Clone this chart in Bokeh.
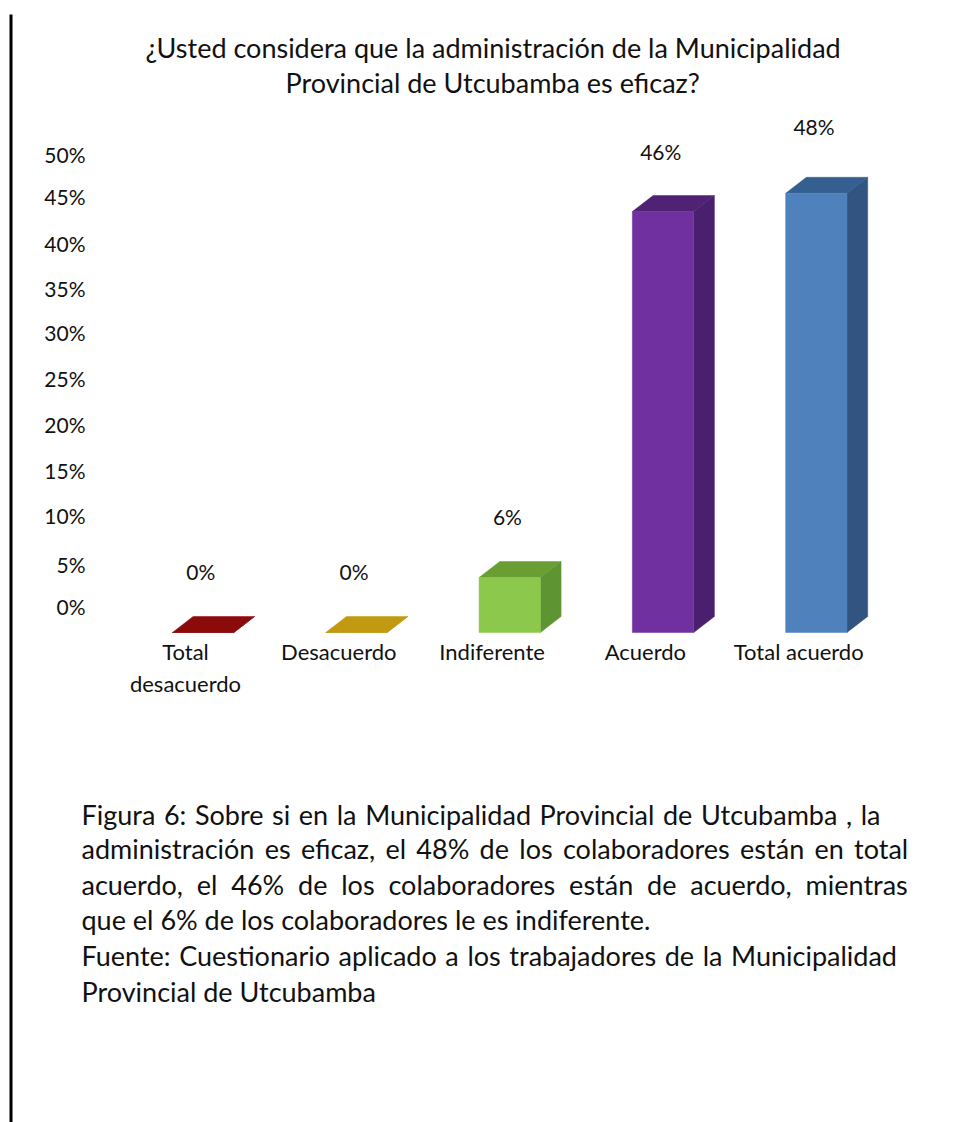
from bokeh.plotting import figure
from bokeh.embed import file_html
from bokeh.resources import INLINE
from bokeh.models import (Range1d, LinearAxis, FixedTicker, Label, BoxAnnotation, ColumnDataSource)
from bokeh.core.properties import value

# ---- data ----
categories = ["Total\ndesacuerdo", "Desacuerdo", "Indiferente", "Acuerdo", "Total acuerdo"]
values = [0, 0, 6, 46, 48]
value_labels = ["0%", "0%", "6%", "46%", "48%"]
axis_labels = ["0%", "5%", "10%", "15%", "20%", "25%", "30%", "35%", "40%", "45%", "50%"]
# where each printed axis label sits, read on the label's own scale (they are unevenly spaced)
axis_label_at = [0, 4.54, 9.96, 15.04, 20.13, 25.2, 30.3, 35.07, 40.15, 45.35, 50]

title_lines = ["¿Usted considera que la administración de la Municipalidad",
               "Provincial de Utcubamba es eficaz?"]
caption_lines = [
    "Figura 6: Sobre si en la Municipalidad Provincial de Utcubamba , la",
    "administración es eficaz, el 48% de los colaboradores están en total",
    "acuerdo, el 46% de los colaboradores están de acuerdo, mientras",
    "que el 6% de los colaboradores le es indiferente.",
    "Fuente: Cuestionario aplicado a los trabajadores de la Municipalidad",
    "Provincial de Utcubamba",
]

# ---- styles ----
front_colors = ["#8B0A0A", "#C19A12", "#8CC84B", "#7030A0", "#4F81BD"]
top_colors = ["#8B0A0A", "#C19A12", "#6A9E33", "#4F2273", "#365F91"]
side_colors = ["#8B0A0A", "#C19A12", "#5F9432", "#4A1F6E", "#315580"]
label_lift = [61, 61, 61, 60, 67]
caption_y = [814, 848, 884, 919, 955, 991]
# widening of the lines that the reference sets wider
caption_gap = ["\u200a", "\u200a\u200a", "\u00a0", "", "\u200a", ""]

FONT = "Lato"
W, H = 960, 1122
AXIS_X = 101        # where the printed percentages end, px
AXIS_Y = 632        # baseline, px
STEP = 153.3        # px per category
X0 = 185            # centre of first axis label, px
PX_PER_PCT = 9.15
TICK_PX = 9.04
TICK_ZERO = 605.5

x_range = Range1d((0 - X0) / STEP, (W - X0) / STEP)
y_range = Range1d((AXIS_Y - H) / PX_PER_PCT, AXIS_Y / PX_PER_PCT)

p = figure(width=W, height=H, x_range=x_range, y_range=y_range, output_backend="svg",
           toolbar_location=None, x_axis_location=None, y_axis_location=None,
           min_border=0, outline_line_color=None, background_fill_color="white")
p.grid.visible = False

# ---- axis with the printed percentages ----
p.extra_y_ranges = {"printed": Range1d((TICK_ZERO - H) / TICK_PX, TICK_ZERO / TICK_PX)}
left = LinearAxis(y_range_name="printed", ticker=FixedTicker(ticks=axis_label_at),
                  fixed_location=(AXIS_X - X0) / STEP,
                  major_label_overrides=dict(zip(axis_label_at, axis_labels)),
                  axis_line_color=None, major_tick_line_color=None, minor_tick_line_color=None,
                  major_label_text_font=FONT, major_label_text_font_size="21px",
                  major_label_text_color="#111111", major_label_standoff=10)
p.add_layout(left, "left")

xa = LinearAxis(ticker=FixedTicker(ticks=list(range(len(categories)))), fixed_location=0,
                major_label_overrides=dict(enumerate(categories)),
                axis_line_color=None, major_tick_line_color=None, minor_tick_line_color=None,
                major_label_text_font=FONT, major_label_text_font_size="22px",
                major_label_text_color="#111111", major_label_standoff=-1)
p.add_layout(xa, "below")

# ---- pseudo 3-D bars built from the values ----
SHIFT = 0.115       # front face is right of the label centre
HALF = 0.2          # half of front width
DX = 0.135          # depth, in categories
DY = 1.75           # depth, in percent
front_x, front_y, top_x, top_y, side_x, side_y = [], [], [], [], [], []
for i, v in enumerate(values):
    a, b = i + SHIFT - HALF, i + SHIFT + HALF
    front_x.append([a, b, b, a]); front_y.append([0, 0, v, v])
    top_x.append([a, b, b + DX, a + DX]); top_y.append([v, v, v + DY, v + DY])
    side_x.append([b, b + DX, b + DX, b]); side_y.append([0, DY, v + DY, v])

p.patches(side_x, side_y, fill_color=side_colors, line_color=side_colors, line_width=0.5)
p.patches(top_x, top_y, fill_color=top_colors, line_color=top_colors, line_width=0.5)
p.patches(front_x, front_y, fill_color=front_colors, line_color=front_colors, line_width=0.5)

src = ColumnDataSource(dict(x=[i + 0.1 for i in range(len(values))], y=values,
                            t=value_labels, off=[-d for d in label_lift]))
p.text("x", "y", text="t", source=src, y_offset="off", text_font=value(FONT),
       text_font_size="21px", text_align="center", text_baseline="middle", text_color="#111111")


def page_label(text, x, y, size, align="left"):
    # annotation screen units count from the frame's left and bottom edges
    p.add_layout(Label(x=x, y=H - y, x_units="screen", y_units="screen", text=text,
                       text_font=FONT, text_font_size=size, text_align=align,
                       text_baseline="middle", text_color="#111111"))


for line, xx, yy in zip(title_lines, [145, 285], [47, 82]):
    page_label(line, xx, yy, "27px")
for line, gap, yy in zip(caption_lines, caption_gap, caption_y):
    page_label(line.replace(" ", " " + gap) if gap else line, 81, yy, "27px")

# ---- page rule at the left ----
p.add_layout(BoxAnnotation(left=9, right=12, top=H - 14, bottom=0,
                           left_units="screen", right_units="screen",
                           top_units="screen", bottom_units="screen", fill_color="black", fill_alpha=1,
                           line_color=None, level="overlay"))

open("out.html", "w").write(file_html(p, INLINE))
